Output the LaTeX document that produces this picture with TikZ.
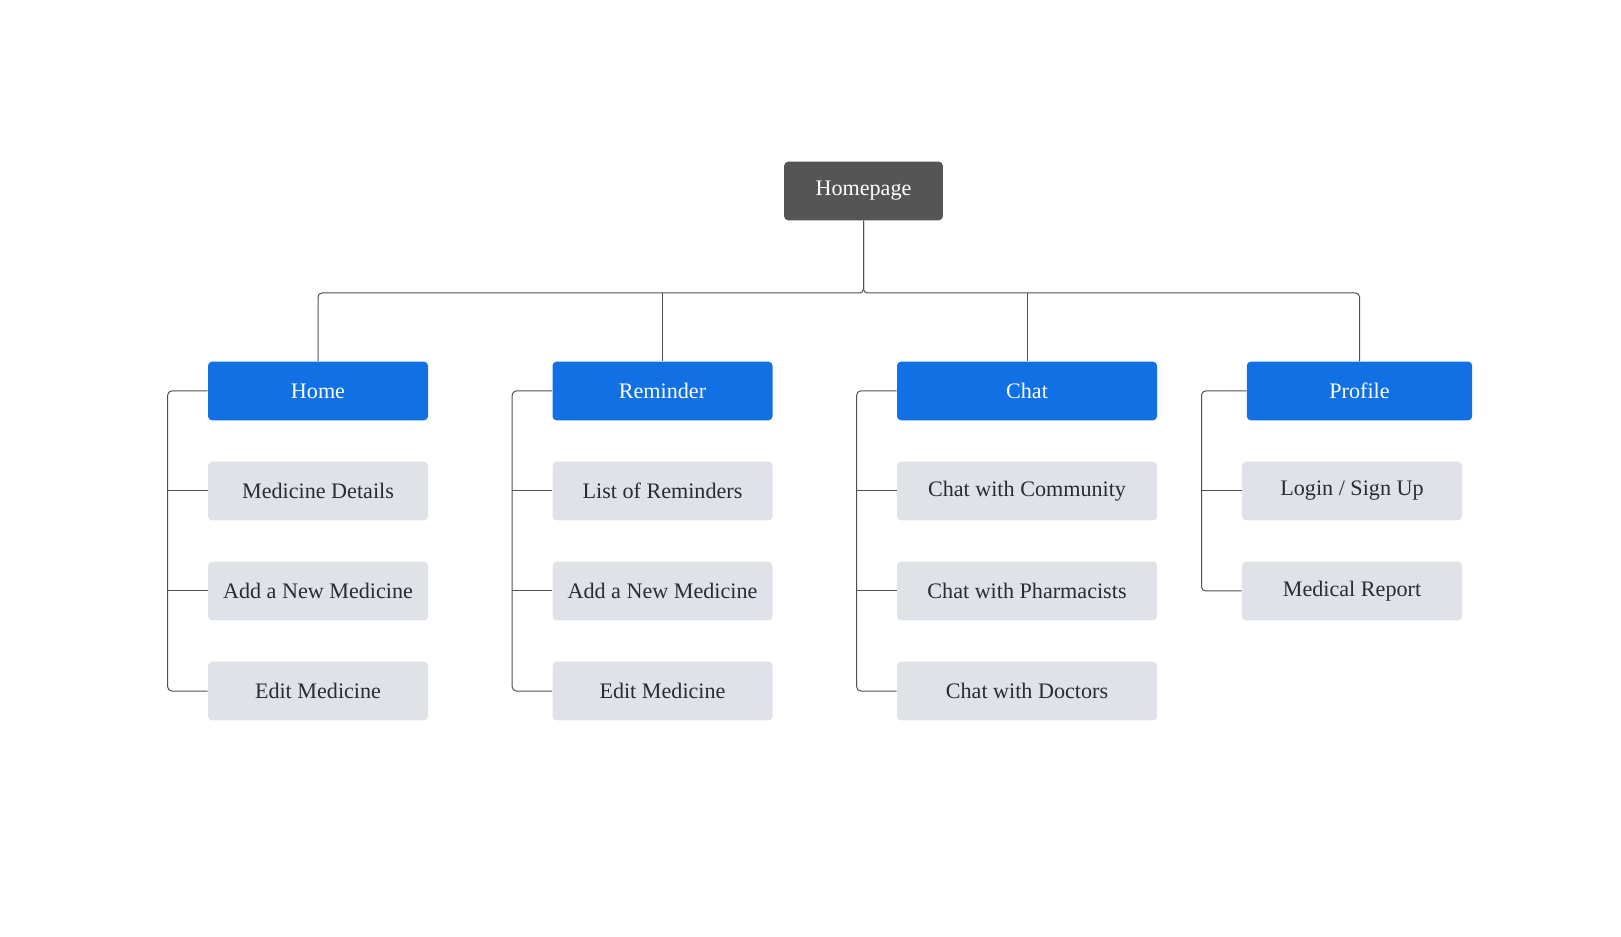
\documentclass[tikz,border=0pt]{standalone}
\usepackage{fontspec}
\setmainfont{Liberation Serif}
\definecolor{topgray}{RGB}{85,85,85}
\definecolor{tabblue}{RGB}{17,113,228}
\definecolor{itemgray}{RGB}{223,227,231}
\definecolor{inkgray}{RGB}{40,44,51}
\definecolor{linegray}{RGB}{80,80,80}
\tikzset{
  box/.style={rounded corners=3pt, inner sep=0pt, minimum height=44pt, font=\fontsize{16.6}{20}\selectfont},
  rootbox/.style={box, fill=topgray, text=white, minimum width=119pt},
  tabbox/.style={box, fill=tabblue, text=white},
  itembox/.style={box, fill=itemgray, text=inkgray},
  link/.style={draw=linegray, line width=0.75pt, rounded corners=3pt}
}
\begin{document}
\begin{tikzpicture}[x=0.75pt,y=0.75pt,yscale=-1,xscale=1]
\path (0,0) rectangle (1621,937); %set diagram size

% Root
\node[rootbox] (homepage) at (863.5,191) {Homepage};
\coordinate (hub) at (863.5,293);

% Tabs
\node[tabbox, minimum width=165pt] (home) at (318,391) {Home};
\node[tabbox, minimum width=165pt] (reminder) at (662.5,391) {Reminder};
\node[tabbox, minimum width=195pt] (chat) at (1027,391) {Chat};
\node[tabbox, minimum width=169pt] (profile) at (1359.5,391) {Profile};

% Home items
\node[itembox, minimum width=165pt] (details) at (318,491) {Medicine Details};
\node[itembox, minimum width=165pt] (addmed) at (318,591) {Add a New Medicine};
\node[itembox, minimum width=165pt] (editmed) at (318,691) {Edit Medicine};

% Reminder items
\node[itembox, minimum width=165pt] (remlist) at (662.5,491) {List of Reminders};
\node[itembox, minimum width=165pt] (remadd) at (662.5,591) {Add a New Medicine};
\node[itembox, minimum width=165pt] (remedit) at (662.5,691) {Edit Medicine};

% Chat items
\node[itembox, minimum width=195pt] (community) at (1027,491) {Chat with Community};
\node[itembox, minimum width=195pt] (pharma) at (1027,591) {Chat with Pharmacists};
\node[itembox, minimum width=195pt] (doctors) at (1027,691) {Chat with Doctors};

% Profile items
\node[itembox, minimum width=165pt] (login) at (1352,491) {Login / Sign Up};
\node[itembox, minimum width=165pt] (report) at (1352,591) {Medical Report};

% Bus
\draw[link] (homepage.south) -- (hub) -| (home.north);
\draw[link] (homepage.south) -- (hub) -| (profile.north);
\draw[link] (reminder.north) -- (reminder.north |- hub);
\draw[link] (chat.north) -- (chat.north |- hub);

% Brackets
\draw[link] (home.west) -- ++(-40,0) |- (editmed.west);
\draw[link] (details.west) -- ++(-40,0);
\draw[link] (addmed.west) -- ++(-40,0);

\draw[link] (reminder.west) -- ++(-40,0) |- (remedit.west);
\draw[link] (remlist.west) -- ++(-40,0);
\draw[link] (remadd.west) -- ++(-40,0);

\draw[link] (chat.west) -- ++(-40,0) |- (doctors.west);
\draw[link] (community.west) -- ++(-40,0);
\draw[link] (pharma.west) -- ++(-40,0);

\draw[link] (profile.west) -- ++(-45,0) |- (report.west);
\draw[link] (login.west) -- ++(-40,0);

\end{tikzpicture}
\end{document}
